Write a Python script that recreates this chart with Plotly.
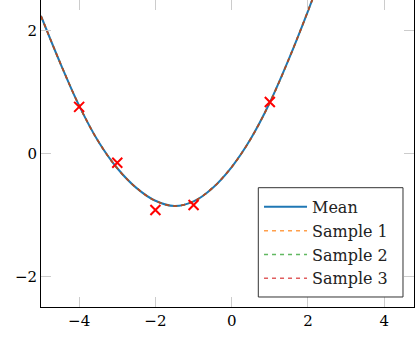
import plotly.graph_objects as go

# GP-style posterior: mean curve, samples lie on top of it
x_grid = [-5.0, -4.5, -4.0, -3.5, -3.0, -2.5, -2.0, -1.5, -1.0, -0.5,
          0.0, 0.5, 1.0, 1.5, 2.0, 2.5]
mean_vals = [2.24, 1.48, 0.78, 0.20, -0.24, -0.56, -0.77, -0.855, -0.78, -0.56,
             -0.22, 0.24, 0.83, 1.54, 2.32, 3.15]
sample_1 = list(mean_vals)
sample_2 = list(mean_vals)
sample_3 = list(mean_vals)

obs_x = [-4, -3, -2, -1, 1]
obs_y = [0.76, -0.15, -0.92, -0.84, 0.84]

x_ticks = [-4, -2, 0, 2, 4]
y_ticks = [-2, 0, 2]

FONT = "DejaVu Serif"

fig = go.Figure()
fig.add_trace(go.Scatter(
    x=x_grid, y=mean_vals, mode="lines", name="Mean",
    line=dict(color="#1f77b4", width=2, shape="spline"),
))
for name, vals, color in [("Sample 1", sample_1, "#ff7f0e"),
                          ("Sample 2", sample_2, "#2ca02c"),
                          ("Sample 3", sample_3, "#d62728")]:
    fig.add_trace(go.Scatter(
        x=x_grid, y=vals, mode="lines", name=name, opacity=0.75,
        line=dict(color=color, width=1.5, dash="4px,4px", shape="spline"),
    ))
fig.add_trace(go.Scatter(
    x=obs_x, y=obs_y, mode="markers", showlegend=False,
    marker=dict(symbol="x-thin", size=10, color="#ff0000",
                line=dict(color="#ff0000", width=2)),
))

axis_common = dict(
    showgrid=False, zeroline=False,
    showline=True, linecolor="black", linewidth=1, mirror="allticks",
    ticks="inside", ticklen=10, tickwidth=1, tickcolor="#cccccc",
    tickfont=dict(family=FONT, size=15, color="black"),
)

# legend frame drawn as a shape so it can be a bit wider than plotly's own box
fig.add_shape(type="rect", xref="paper", yref="paper",
              x0=0.5826, x1=0.9705, y0=0.0326, y1=0.3886,
              line=dict(color="#333333", width=1), fillcolor="white",
              layer="above")

fig.update_layout(
    width=415, height=337,
    margin=dict(l=41, r=1, t=0, b=30),
    plot_bgcolor="white", paper_bgcolor="white",
    font=dict(family=FONT, size=16, color="black"),
    xaxis=dict(range=[-5, 4.78], tickvals=x_ticks, **axis_common),
    yaxis=dict(range=[-2.5, 2.5], tickvals=y_ticks, **axis_common),
    legend=dict(
        x=0.5845, xanchor="left", y=0.036, yanchor="bottom",
        bgcolor="rgba(0,0,0,0)", borderwidth=0,
        font=dict(family=FONT, size=16, color="#222222"),
        itemwidth=43,
    ),
)

# drop the browser's default body margin so the figure sits at (0, 0)
fig.write_html("out.html", config={"displayModeBar": False},
               post_script="document.body.style.margin='0';")
